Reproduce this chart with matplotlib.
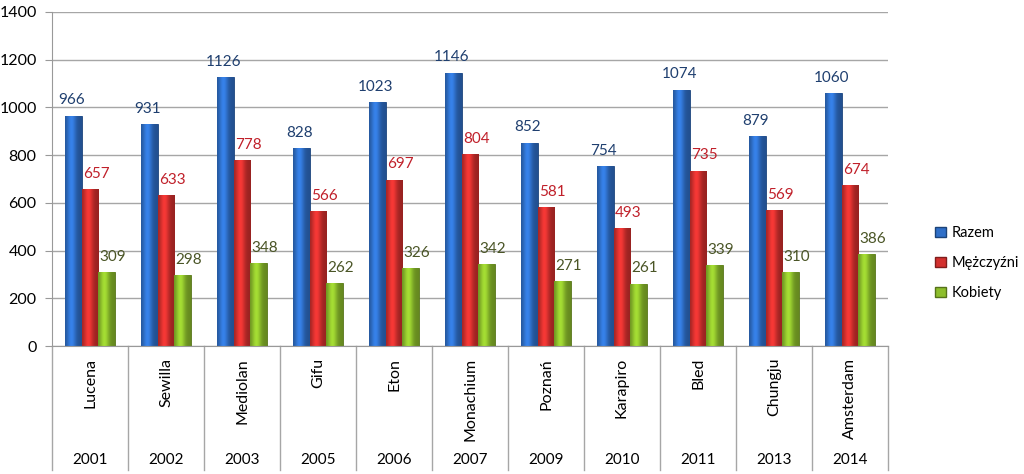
import numpy as np
import matplotlib.pyplot as plt
from matplotlib.colors import to_rgb
from matplotlib.patches import Patch
import matplotlib.transforms as mtransforms

plt.rcParams['font.family'] = ['Lato', 'DejaVu Sans']

# Data
cities = ['Lucena', 'Sewilla', 'Mediolan', 'Gifu', 'Eton', 'Monachium',
          'Poznań', 'Karapiro', 'Bled', 'Chungju', 'Amsterdam']
years = ['2001', '2002', '2003', '2005', '2006', '2007',
         '2009', '2010', '2011', '2013', '2014']
razem = [966, 931, 1126, 828, 1023, 1146, 852, 754, 1074, 879, 1060]
mezczyzni = [657, 633, 778, 566, 697, 804, 581, 493, 735, 569, 674]
kobiety = [309, 298, 348, 262, 326, 342, 271, 261, 339, 310, 386]

series = [('Razem', razem, '#2F6FC8', '#1F3F6F'),
          ('Mężczyźni', mezczyzni, '#D3302E', '#C0202A'),
          ('Kobiety', kobiety, '#8DBE2C', '#4A5526')]

fig = plt.figure(figsize=(10.24, 4.74), dpi=100)
ax = fig.add_axes([52 / 1024, 128 / 474, 836 / 1024, 334 / 474])

x = np.arange(len(cities))
w = 0.22


def shade(color):
    # horizontal gradient to mimic the cylindrical bar look
    base = np.array(to_rgb(color))
    t = np.linspace(0, 1, 64)
    f = 0.72 + 0.45 * np.exp(-((t - 0.38) / 0.28) ** 2)
    img = np.clip(base[None, :] * f[:, None], 0, 1)
    return img[None, :, :]


for i, (name, vals, col, tcol) in enumerate(series):
    offs = (i - 1) * w
    bars = ax.bar(x + offs, vals, w, color=col, edgecolor=np.array(to_rgb(col)) * 0.6,
                  linewidth=0.6, zorder=2)
    for b, v in zip(bars, vals):
        im = ax.imshow(shade(col), extent=[b.get_x(), b.get_x() + w, 0, v],
                       aspect='auto', zorder=2.5, interpolation='bilinear')
        im.set_clip_path(b)
        dx = -0.02 if i == 0 else 0.08
        ax.text(b.get_x() + w / 2 + dx, v + 35, str(v), ha='center', va='bottom',
                fontsize=11, color=tcol, zorder=4)

ax.set_xlim(-0.5, len(cities) - 0.5)
ax.set_ylim(0, 1400)
ax.set_yticks(range(0, 1401, 200))
ax.tick_params(axis='y', labelsize=11.5, length=5, color='#999999', pad=6)
ax.tick_params(axis='x', bottom=False, labelbottom=False)
ax.grid(axis='y', color='#A6A6A6', linewidth=1, zorder=0)
ax.set_axisbelow(True)
for s in ['top', 'right']:
    ax.spines[s].set_visible(False)
ax.spines['left'].set_color('#999999')
ax.spines['bottom'].set_color('#999999')

# two-level category axis below the plot
trans = mtransforms.blended_transform_factory(ax.transData, fig.transFigure)
for k in range(len(cities) + 1):
    ax.plot([k - 0.5, k - 0.5], [128 / 474, 4 / 474], transform=trans,
            color='#A6A6A6', linewidth=1, clip_on=False)
for k, (c, yr) in enumerate(zip(cities, years)):
    ax.text(k, (474 - 358) / 474, c, transform=trans, rotation=90, ha='center', va='top',
            fontsize=11.5, color='black')
    ax.text(k, 14 / 474, yr, transform=trans, ha='center', va='center',
            fontsize=11, color='black')

handles = [Patch(facecolor=col, edgecolor=np.array(to_rgb(col)) * 0.6, label=name)
           for name, vals, col, tcol in series]
fig.legend(handles=handles, loc='center left', bbox_to_anchor=(928 / 1024, 211 / 474),
           frameon=False, fontsize=10.5, handlelength=0.7, handleheight=0.7,
           labelspacing=1.1, handletextpad=0.4, borderpad=0)

fig.savefig('out.png', dpi=100)
